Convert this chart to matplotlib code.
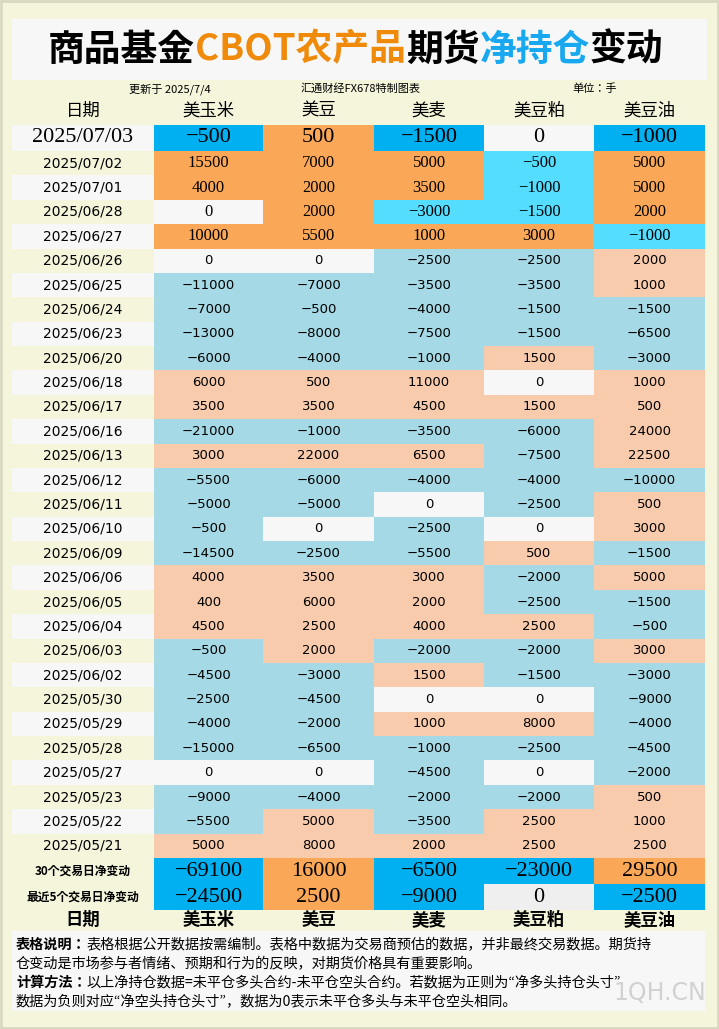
import matplotlib
matplotlib.use("Agg")
import matplotlib.pyplot as plt
from matplotlib.patches import Rectangle
from matplotlib import font_manager as fm

dates = ["2025/07/02","2025/07/01","2025/06/28","2025/06/27","2025/06/26","2025/06/25","2025/06/24",
         "2025/06/23","2025/06/20","2025/06/18","2025/06/17","2025/06/16","2025/06/13","2025/06/12",
         "2025/06/11","2025/06/10","2025/06/09","2025/06/06","2025/06/05","2025/06/04","2025/06/03",
         "2025/06/02","2025/05/30","2025/05/29","2025/05/28","2025/05/27","2025/05/23","2025/05/22","2025/05/21"]
products = ["美玉米","美豆","美麦","美豆粕","美豆油"]
latest_date = "2025/07/03"
latest = [-500, 500, -1500, 0, -1000]
corn = [15500,4000,0,10000,0,-11000,-7000,-13000,-6000,6000,3500,-21000,3000,-5500,-5000,-500,-14500,4000,400,4500,-500,-4500,-2500,-4000,-15000,0,-9000,-5500,5000]
soy = [7000,2000,2000,5500,0,-7000,-500,-8000,-4000,500,3500,-1000,22000,-6000,-5000,0,-2500,3500,6000,2500,2000,-3000,-4500,-2000,-6500,0,-4000,5000,8000]
wheat = [5000,3500,-3000,1000,-2500,-3500,-4000,-7500,-1000,11000,4500,-3500,6500,-4000,0,-2500,-5500,3000,2000,4000,-2000,1500,0,1000,-1000,-4500,-2000,-3500,2000]
meal = [-500,-1000,-1500,3000,-2500,-3500,-1500,-1500,1500,0,1500,-6000,-7500,-4000,-2500,0,500,-2000,-2500,2500,-2000,-1500,0,8000,-2500,0,-2000,2500,2500]
oil = [5000,5000,2000,-1000,2000,1000,-1500,-6500,-3000,1000,500,24000,22500,-10000,500,3000,-1500,5000,-1500,-500,3000,-3000,-9000,-4000,-4500,-2000,500,1000,2500]
sum30 = [-69100, 16000, -6500, -23000, 29500]
sum5 = [-24500, 2500, -9000, 0, -2500]

BG = "#F5F5DC"; WH = "#F7F7F7"
ORANGE = "#FAA857"; CYAN = "#55DDFF"; BLUE = "#00B0F0"; LBLUE = "#A5D9E5"; PEACH = "#F8CBAD"
NUM = "Liberation Serif"

cjk_files = [f.fname for f in fm.fontManager.ttflist if "CJK" in f.name]
cjk_reg = [f for f in cjk_files if "Regular" in f or "Medium" in f] or cjk_files
cjk_bold = [f for f in cjk_files if "Bold" in f] or cjk_reg
if cjk_files:
    FP = fm.FontProperties(fname=cjk_reg[0])
    FPB = fm.FontProperties(fname=cjk_bold[0])
else:
    FP = fm.FontProperties(family="Noto Sans CJK SC")
    FPB = fm.FontProperties(family="Noto Sans CJK SC", weight="bold")

def ctext(x, y, s, size, bold=False, **kw):
    p = (FPB if bold else FP).copy()
    p.set_size(size)
    return ax.text(x, y, s, fontproperties=p, **kw)

fig = plt.figure(figsize=(7.19, 10.29), dpi=100)
fig.patch.set_facecolor(BG)
ax = fig.add_axes([0, 0, 1, 1])
ax.set_xlim(0, 719); ax.set_ylim(1029, 0); ax.axis("off")

def rect(x0, y0, x1, y1, c):
    ax.add_patch(Rectangle((x0, y0), x1 - x0, y1 - y0, facecolor=c, edgecolor="none"))

ax.add_patch(Rectangle((1, 1), 717, 1027, facecolor="none", edgecolor="#D8D8C0", lw=2))
rect(12, 19, 707, 80, WH)
title_parts = [("商品基金", "black"), ("CBOT农产品", "#F08A0A"), ("期货", "black"), ("净持仓", "#18A8F0"), ("变动", "black")]
x = 48
for txt, col in title_parts:
    t = ctext(x, 50, txt, 26.5, bold=True, color=col, va="center", ha="left")
    fig.canvas.draw()
    x += t.get_window_extent().width
ctext(170, 89, "更新于 2025/7/4", 8, ha="center", va="center")
ctext(360, 89, "汇通财经FX678特制图表", 8, ha="center", va="center")
ctext(595, 89, "单位：手", 8, ha="center", va="center")

cols = [154, 263, 374, 484, 594, 705]
def header(y, bold=False):
    ctext(83, y, "日期", 12.5, bold=bold, ha="center", va="center")
    for i, p in enumerate(products):
        ctext((cols[i] + cols[i + 1]) / 2, y, p, 12.5, bold=bold, ha="center", va="center")
header(111)

def color(v, strong):
    if v == 0: return WH
    if strong: return ORANGE if v > 0 else CYAN
    return PEACH if v > 0 else LBLUE

y0, y1 = 125, 151
rect(12, y0, 154, y1, WH)
ax.text(83, (y0 + y1) / 2, latest_date, fontsize=16, fontfamily=NUM, ha="center", va="center")
for i, v in enumerate(latest):
    rect(cols[i], y0, cols[i + 1], y1, WH if v == 0 else (ORANGE if v > 0 else BLUE))
    ax.text((cols[i] + cols[i + 1]) / 2, (y0 + y1) / 2, str(v).replace("-", "−"), fontsize=16, fontfamily=NUM, ha="center", va="center")

series = [corn, soy, wheat, meal, oil]
rh = (858 - 151) / len(dates)
for r, d in enumerate(dates):
    a = 151 + r * rh; b = a + rh
    if r % 2 == 1: rect(12, a, 154, b, WH)
    ax.text(83, (a + b) / 2, d, fontsize=10, fontfamily="DejaVu Sans", ha="center", va="center")
    strong = r < 4
    for i in range(5):
        v = series[i][r]
        rect(cols[i], a, cols[i + 1], b + 0.3, color(v, strong))
        ax.text((cols[i] + cols[i + 1]) / 2, (a + b) / 2, str(v).replace("-", "−"),
                fontsize=12 if strong else 9.5, fontfamily=NUM if strong else "DejaVu Sans", ha="center", va="center")

for (lab, vals, a, b) in [("30个交易日净变动", sum30, 858, 884), ("最近5个交易日净变动", sum5, 884, 910)]:
    ctext(83, (a + b) / 2, lab, 8.5, bold=True, ha="center", va="center")
    for i, v in enumerate(vals):
        c = "#EFEFEF" if v == 0 else (ORANGE if v > 0 else BLUE)
        rect(cols[i], a, cols[i + 1], b, c)
        ax.text((cols[i] + cols[i + 1]) / 2, (a + b) / 2, str(v).replace("-", "−"), fontsize=16, fontfamily=NUM, ha="center", va="center")

header(920, bold=True)
rect(12, 931, 705, 1011, WH)
lines = [("表格说明：", "表格根据公开数据按需编制。表格中数据为交易商预估的数据，并非最终交易数据。期货持", 945),
         ("", "仓变动是市场参与者情绪、预期和行为的反映，对期货价格具有重要影响。", 964),
         ("计算方法：", "以上净持仓数据=未平仓多头合约-未平仓空头合约。若数据为正则为“净多头持仓头寸”", 983),
         ("", "数据为负则对应“净空头持仓头寸”，数据为0表示未平仓多头与未平仓空头相同。", 1001)]
for bold, txt, y in lines:
    x = 16
    if bold:
        t = ctext(x, y, bold, 10.2, bold=True, va="center")
        fig.canvas.draw()
        x += t.get_window_extent().width
    ctext(x, y, txt, 10.2, va="center")
ax.text(660, 993, "1QH.CN", fontsize=17, fontfamily="DejaVu Sans", color="#C8C8C8", ha="center", va="center", alpha=0.8)

fig.savefig("out.png", dpi=100, facecolor=BG)
